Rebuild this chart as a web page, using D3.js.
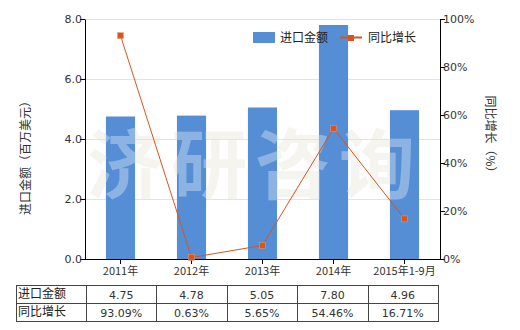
<!DOCTYPE html>
<html><head><meta charset="utf-8">
<script src="https://cdn.jsdelivr.net/npm/d3@7"></script>
<style>body{margin:0;background:#fff}svg{display:block;font-family:"Noto Sans CJK SC","Noto Sans",sans-serif}</style>
</head><body><svg id="c" width="520" height="330"></svg>
<script>
const categories = ["2011年","2012年","2013年","2014年","2015年1-9月"];
const importValues = [4.75,4.78,5.05,7.80,4.96];
const growthValues = [93.09,0.63,5.65,54.46,16.71];
const leftTicks = [0,2,4,6,8];
const rightTicks = [0,20,40,60,80,100];
const seriesNames = ["进口金额","同比增长"];

const svg = d3.select("#c");
const L=85,R=440,T=19,B=259;
const x = d3.scaleBand().domain(categories).range([L,R]).paddingInner(0.59).paddingOuter(0.295);
const y = d3.scaleLinear().domain([0,8]).range([B,T]);
const y2 = d3.scaleLinear().domain([0,100]).range([B,T]);
const barColor="#558ED5", lineColor="#D9541E";

function watermark(fill,op){
  svg.append("text").attr("x",255).attr("y",193).attr("text-anchor","middle")
    .attr("font-size",76).attr("font-weight","bold").attr("letter-spacing",8)
    .attr("fill",fill).attr("fill-opacity",op).text("济研咨询");
}
watermark("#f6f4ef",1);

// gridlines
svg.append("g").selectAll("line").data(leftTicks.slice(1)).join("line")
  .attr("x1",L).attr("x2",R).attr("y1",d=>y(d)+0.5).attr("y2",d=>y(d)+0.5)
  .attr("stroke","#e3e3e3");

// bars
svg.append("g").selectAll("rect").data(importValues).join("rect")
  .attr("x",(d,i)=>x(categories[i])).attr("width",x.bandwidth())
  .attr("y",d=>y(d)).attr("height",d=>B-y(d)).attr("fill",barColor);

// watermark over bars
svg.append("clipPath").attr("id","bc").selectAll("rect").data(importValues).join("rect")
  .attr("x",(d,i)=>x(categories[i])).attr("width",x.bandwidth())
  .attr("y",d=>y(d)).attr("height",d=>B-y(d));
svg.append("g").attr("clip-path","url(#bc)").append("text").attr("x",255).attr("y",193).attr("text-anchor","middle")
    .attr("font-size",76).attr("font-weight","bold").attr("letter-spacing",8)
    .attr("fill","#ffffff").attr("fill-opacity",0.33).text("济研咨询");

// axes
const fmt=d3.format(".1f");
const ga=svg.append("g").attr("transform",`translate(${L},0)`)
  .call(d3.axisLeft(y).tickValues(leftTicks).tickFormat(fmt).tickSize(5).tickSizeOuter(0));
const gr=svg.append("g").attr("transform",`translate(${R},0)`)
  .call(d3.axisRight(y2).tickValues(rightTicks).tickFormat(d=>d+"%").tickSize(5).tickSizeOuter(0));
const gb=svg.append("g").attr("transform",`translate(0,${B})`)
  .call(d3.axisBottom(x).tickSize(5).tickSizeOuter(0));
[ga,gr,gb].forEach(g=>{g.selectAll("path,line").attr("stroke","#000");
  g.selectAll("text").attr("fill","#333").attr("font-size",11).attr("font-family","Tahoma,'DejaVu Sans','Noto Sans CJK SC',sans-serif");});
ga.selectAll("text").attr("x",-3);
gr.selectAll("text").attr("x",3);
gb.selectAll("text").attr("y",8).attr("font-family","'Noto Sans CJK SC',sans-serif");
gb.select(".domain").attr("d",`M${L},0.5H${R}`);

// line
const line=d3.line().x((d,i)=>x(categories[i])+x.bandwidth()/2).y(d=>y2(d));
svg.append("path").datum(growthValues).attr("d",line).attr("fill","none")
  .attr("stroke",lineColor).attr("stroke-width",1);
svg.append("g").selectAll("rect").data(growthValues).join("rect")
  .attr("x",(d,i)=>x(categories[i])+x.bandwidth()/2-3).attr("y",d=>y2(d)-3)
  .attr("width",6).attr("height",6).attr("fill",lineColor).attr("stroke","#e8a070").attr("stroke-width",0.5);

// axis titles
svg.append("text").attr("transform","translate(30,155) rotate(-90)").attr("text-anchor","middle")
  .attr("font-size",12).attr("fill","#333").text("进口金额（百万美元）");
svg.append("text").attr("transform","translate(486,137) rotate(90)").attr("text-anchor","middle")
  .attr("font-size",12).attr("fill","#333").text("同比增长（%）");

// legend
const lg=svg.append("g");
lg.append("rect").attr("x",253).attr("y",32).attr("width",22).attr("height",11).attr("fill",barColor);
lg.append("text").attr("x",280).attr("y",42).attr("font-size",12).attr("fill","#222").text(seriesNames[0]);
lg.append("line").attr("x1",340).attr("x2",362).attr("y1",37.5).attr("y2",37.5).attr("stroke",lineColor).attr("stroke-width",2);
lg.append("rect").attr("x",348).attr("y",35).attr("width",6).attr("height",6).attr("fill",lineColor);
lg.append("text").attr("x",368).attr("y",42).attr("font-size",12).attr("fill","#222").text(seriesNames[1]);

// table
const tL=16, tC=86, tR=438, rows=[285,303,321];
const colW=(tR-tC)/categories.length;
const tg=svg.append("g");
rows.forEach(r=>tg.append("line").attr("x1",tL).attr("x2",tR).attr("y1",r+0.5).attr("y2",r+0.5).attr("stroke","#444"));
[tL,...categories.map((c,i)=>tC+i*colW),tR].forEach(cx=>tg.append("line").attr("x1",Math.round(cx)+0.5).attr("x2",Math.round(cx)+0.5).attr("y1",rows[0]).attr("y2",rows[2]+1).attr("stroke","#444"));
const tableRows=[importValues.map(d=>d.toFixed(2)), growthValues.map(d=>d.toFixed(2)+"%")];
tableRows.forEach((vals,ri)=>{
  tg.append("text").attr("x",tL+2).attr("y",rows[ri]+13).attr("font-size",12).attr("fill","#222").text(seriesNames[ri]);
  vals.forEach((v,ci)=>tg.append("text").attr("x",tC+ci*colW+colW/2).attr("y",rows[ri]+14)
    .attr("text-anchor","middle").attr("font-size",11).attr("fill","#333")
    .attr("font-family","Tahoma,'DejaVu Sans',sans-serif").text(v));
});
</script></body></html>
